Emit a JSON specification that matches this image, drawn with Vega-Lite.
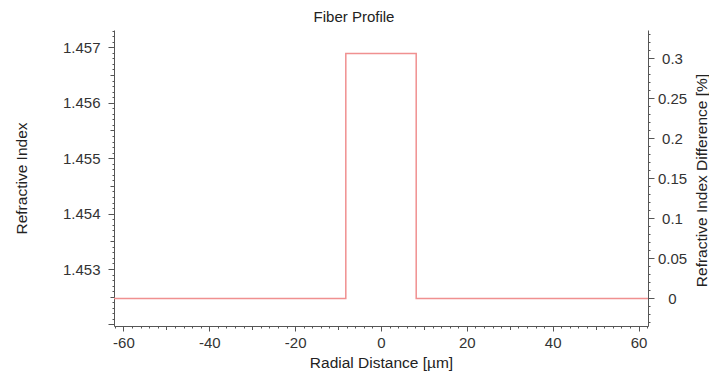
{
  "$schema": "https://vega.github.io/schema/vega-lite/v6.json",
  "width": 534,
  "height": 296,
  "autosize": "none",
  "padding": {"left": 114, "top": 30, "right": 61, "bottom": 47},
  "background": "white",
  "title": {"text": "Fiber Profile", "anchor": "middle", "dx": -27, "offset": -1, "fontSize": 15, "fontWeight": "normal", "font": "Liberation Sans", "color": "#222"},
  "config": {
    "view": {"stroke": null},
    "axis": {"grid": false, "labelFont": "Liberation Sans", "titleFont": "Liberation Sans", "labelFontSize": 15, "titleFontSize": 15.5, "titleFontWeight": "normal", "labelColor": "#333", "titleColor": "#222", "domainColor": "#555", "tickColor": "#555", "labelOverlap": false, "labelFlush": false, "labelBound": false}
  },
  "data": {"values": [
    {"i": 0, "r": -62.2, "n": 1.45247, "dn": 0},
    {"i": 1, "r": -8.2, "n": 1.45247, "dn": 0},
    {"i": 2, "r": -8.2, "n": 1.45689, "dn": 0.3043},
    {"i": 3, "r": 8.2, "n": 1.45689, "dn": 0.3043},
    {"i": 4, "r": 8.2, "n": 1.45247, "dn": 0},
    {"i": 5, "r": 62.2, "n": 1.45247, "dn": 0}
  ]},
  "encoding": {
    "order": {"field": "i", "type": "quantitative"},
    "x": {"field": "r", "type": "quantitative", "scale": {"domain": [-62.2, 62.2], "nice": false, "zero": false},
      "axis": {"title": "Radial Distance [µm]", "orient": "bottom",
        "values": [-62,-60,-58,-56,-54,-52,-50,-48,-46,-44,-42,-40,-38,-36,-34,-32,-30,-28,-26,-24,-22,-20,-18,-16,-14,-12,-10,-8,-6,-4,-2,0,2,4,6,8,10,12,14,16,18,20,22,24,26,28,30,32,34,36,38,40,42,44,46,48,50,52,54,56,58,60,62],
        "tickSize": {"condition": [{"test": "datum.value % 20 === 0", "value": 5}, {"test": "datum.value % 10 === 0", "value": 3.5}], "value": 2},
        "labelExpr": "datum.value % 20 === 0 ? toString(round(datum.value)) : ''",
        "labelPadding": 4,
        "titleX": 267, "titleY": 36, "titleBaseline": "middle", "titleAlign": "center"}}
  },
  "layer": [
    {
      "mark": {"type": "line", "color": "#f09090", "strokeWidth": 1.5},
      "encoding": {
        "y": {"field": "n", "type": "quantitative", "scale": {"domain": [1.451972, 1.457312], "nice": false, "zero": false},
          "axis": {"title": "Refractive Index", "orient": "left",
            "values": [1.452,1.4521,1.4522,1.4523,1.4524,1.4525,1.4526,1.4527,1.4528,1.4529,1.453,1.4531,1.4532,1.4533,1.4534,1.4535,1.4536,1.4537,1.4538,1.4539,1.454,1.4541,1.4542,1.4543,1.4544,1.4545,1.4546,1.4547,1.4548,1.4549,1.455,1.4551,1.4552,1.4553,1.4554,1.4555,1.4556,1.4557,1.4558,1.4559,1.456,1.4561,1.4562,1.4563,1.4564,1.4565,1.4566,1.4567,1.4568,1.4569,1.457,1.4571,1.4572,1.4573],
            "tickSize": {"condition": [{"test": "abs(datum.value*1000 - round(datum.value*1000)) < 1e-6", "value": 6}, {"test": "abs(datum.value*2000 - round(datum.value*2000)) < 1e-6", "value": 4}], "value": 2},
            "labelExpr": "abs(datum.value*1000 - round(datum.value*1000)) < 1e-6 && datum.value > 1.4525 ? format(datum.value, '.3f') : ''",
            "labelPadding": 8,
            "titleX": -93, "titleY": 148, "titleAngle": -90, "titleBaseline": "middle", "titleAlign": "center"}}
      }
    },
    {
      "mark": {"type": "line", "color": "#f09090", "strokeWidth": 1.5, "opacity": 0},
      "encoding": {
        "y": {"field": "dn", "type": "quantitative", "scale": {"domain": [-0.0344, 0.3356], "nice": false, "zero": false},
          "axis": {"title": "Refractive Index Difference [%]", "orient": "right",
            "values": [-0.03,-0.02,-0.01,0,0.01,0.02,0.03,0.04,0.05,0.06,0.07,0.08,0.09,0.1,0.11,0.12,0.13,0.14,0.15,0.16,0.17,0.18,0.19,0.2,0.21,0.22,0.23,0.24,0.25,0.26,0.27,0.28,0.29,0.3,0.31,0.32,0.33],
            "tickSize": {"condition": {"test": "abs(datum.value*20 - round(datum.value*20)) < 1e-6", "value": 6}, "value": 2},
            "labelExpr": "abs(datum.value*20 - round(datum.value*20)) < 1e-6 ? format(datum.value, '~g') : ''",
            "labelAlign": "center",
            "labelPadding": 18,
            "titleX": 53, "titleY": 150, "titleAngle": -90, "titleBaseline": "middle", "titleAlign": "center"}}
      }
    }
  ],
  "resolve": {"scale": {"y": "independent"}}
}
